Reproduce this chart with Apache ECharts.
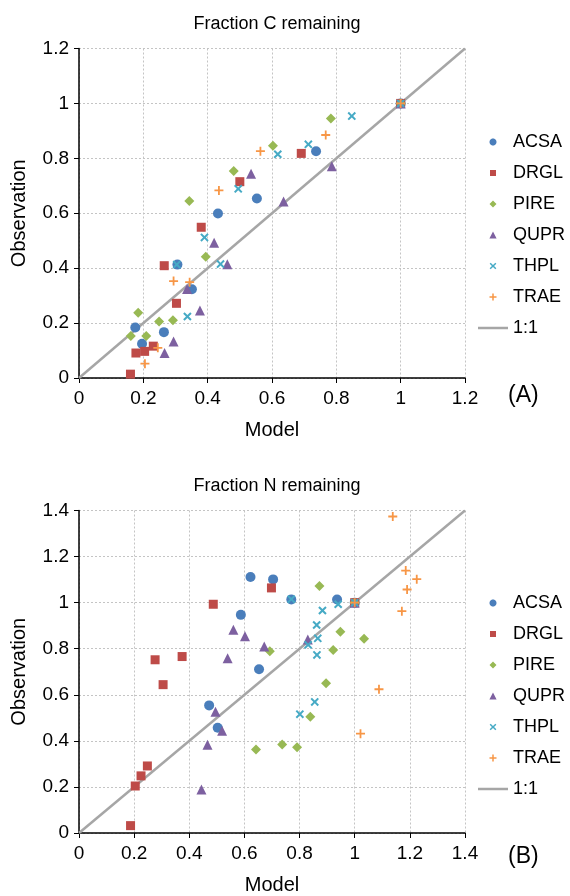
<!DOCTYPE html>
<html>
<head>
<meta charset="utf-8">
<script src="https://cdn.jsdelivr.net/npm/echarts@6/dist/echarts.min.js"></script>
<style>
html,body{margin:0;padding:0;background:#fff;}
#chart{width:570px;height:896px;}
</style>
</head>
<body>
<div id="chart"></div>
<script>
// ---- Data: [model, observation] pairs ----
var speciesNames = ['ACSA', 'DRGL', 'PIRE', 'QUPR', 'THPL', 'TRAE'];
var lineName = '1:1';
var xTicksC = [0, 0.2, 0.4, 0.6, 0.8, 1, 1.2];
var xTicksN = [0, 0.2, 0.4, 0.6, 0.8, 1, 1.2, 1.4];

// Fraction C remaining
var cACSA = [[0.175,0.184],[0.196,0.125],[0.264,0.167],[0.306,0.413],[0.351,0.323],[0.432,0.599],[0.553,0.654],[0.737,0.826],[1,1]];
var cDRGL = [[0.160,0.014],[0.177,0.091],[0.204,0.097],[0.231,0.116],[0.265,0.409],[0.303,0.272],[0.380,0.549],[0.500,0.715],[0.691,0.818],[1,1]];
var cPIRE = [[0.161,0.153],[0.184,0.238],[0.209,0.153],[0.249,0.206],[0.292,0.210],[0.343,0.645],[0.394,0.442],[0.481,0.754],[0.603,0.846],[0.783,0.945],[1,1]];
var cQUPR = [[0.266,0.091],[0.294,0.133],[0.336,0.324],[0.376,0.246],[0.420,0.493],[0.461,0.414],[0.535,0.744],[0.636,0.643],[0.786,0.771],[1,1]];
var cTHPL = [[0.304,0.413],[0.337,0.224],[0.390,0.512],[0.440,0.415],[0.495,0.689],[0.618,0.815],[0.713,0.851],[0.848,0.954],[1,1]];
var cTRAE = [[0.205,0.052],[0.245,0.110],[0.294,0.353],[0.344,0.349],[0.435,0.683],[0.564,0.826],[0.767,0.885],[1,1]];
var cLine = [[0,0],[1.2,1.2]];

// Fraction N remaining
var nACSA = [[0.472,0.554],[0.503,0.457],[0.587,0.947],[0.622,1.111],[0.653,0.711],[0.704,1.101],[0.770,1.014],[0.936,1.014],[1,1]];
var nDRGL = [[0.187,0.032],[0.204,0.204],[0.225,0.248],[0.248,0.291],[0.276,0.752],[0.305,0.644],[0.374,0.766],[0.487,0.993],[0.698,1.064],[1,1]];
var nPIRE = [[0.642,0.363],[0.692,0.789],[0.737,0.384],[0.791,0.372],[0.839,0.505],[0.872,1.072],[0.896,0.650],[0.922,0.794],[0.948,0.874],[1.034,0.843],[1,1]];
var nQUPR = [[0.444,0.189],[0.466,0.383],[0.495,0.526],[0.519,0.444],[0.539,0.759],[0.560,0.882],[0.602,0.854],[0.672,0.810],[0.830,0.840],[1,1]];
var nTHPL = [[0.770,1.015],[0.801,0.516],[0.831,0.817],[0.855,0.569],[0.862,0.903],[0.863,0.773],[0.866,0.845],[0.883,0.966],[0.940,0.993],[1,1]];
var nTRAE = [[1,1],[1.021,0.431],[1.088,0.624],[1.138,1.374],[1.171,0.963],[1.185,1.139],[1.190,1.057],[1.225,1.102]];
var nLine = [[0,0],[1.4,1.4]];

// ---- Styling ----
var FONT = '"Liberation Sans", Arial, sans-serif';
var colors = {ACSA:'#4a7ebb', DRGL:'#be4b48', PIRE:'#98b954', QUPR:'#7d60a0', THPL:'#46aac5', TRAE:'#f79646'};
var LINE_COLOR = '#a6a6a6';
var PLUS = 'path://M4,0H6V4H10V6H6V10H4V6H0V4H4Z';
var symbols = {
  ACSA:{s:'circle', size:10, rot:0},
  DRGL:{s:'rect', size:9, rot:0},
  PIRE:{s:'diamond', size:10, rot:0},
  QUPR:{s:'triangle', size:10, rot:0},
  THPL:{s:PLUS, size:10, rot:45},
  TRAE:{s:PLUS, size:9, rot:0}
};

// ---- Legend icon paths in a 30x7 box (keeps shapes unstretched) ----
var LW = 30, LH = 7, CX = 15, CY = 3.5;
function poly(pts) {
  return 'M' + pts.map(function (p) { return (CX + p[0]).toFixed(3) + ',' + (CY + p[1]).toFixed(3); }).join('L') + 'Z';
}
function anchors() {
  return 'M0,0h0.01v0.01h-0.01Z M' + (LW - 0.01) + ',' + (LH - 0.01) + 'h0.01v0.01h-0.01Z ';
}
function rot(pts, deg) {
  var a = deg * Math.PI / 180, c = Math.cos(a), s = Math.sin(a);
  return pts.map(function (p) { return [p[0] * c - p[1] * s, p[0] * s + p[1] * c]; });
}
function plusPts(L, w) {
  return [[w,-L],[w,-w],[L,-w],[L,w],[w,w],[w,L],[-w,L],[-w,w],[-L,w],[-L,-w],[-w,-w],[-w,-L]];
}
function circlePts(r) {
  var out = [];
  for (var i = 0; i < 24; i++) { var a = i / 24 * 2 * Math.PI; out.push([r * Math.cos(a), r * Math.sin(a)]); }
  return out;
}
var legendIcons = {
  ACSA: 'path://' + anchors() + poly(circlePts(3.5)),
  DRGL: 'path://' + anchors() + poly([[-3,-3],[3,-3],[3,3],[-3,3]]),
  PIRE: 'path://' + anchors() + poly([[0,-3.5],[3.5,0],[0,3.5],[-3.5,0]]),
  QUPR: 'path://' + anchors() + poly([[0,-3.5],[3.6,3.5],[-3.6,3.5]]),
  THPL: 'path://' + anchors() + poly(rot(plusPts(4, 0.75), 45)),
  TRAE: 'path://' + anchors() + poly(plusPts(3.5, 0.75))
};
legendIcons[lineName] = 'path://' + anchors() + 'M0,2.25H30V4.75H0Z';

function scatter(name, data, idx) {
  var sy = symbols[name];
  return {
    name: name, type: 'scatter', xAxisIndex: idx, yAxisIndex: idx,
    data: data, symbol: sy.s, symbolSize: sy.size, symbolRotate: sy.rot,
    itemStyle: {color: colors[name], opacity: 1}, z: 3
  };
}
function oneToOne(data, idx) {
  return {
    name: lineName, type: 'line', xAxisIndex: idx, yAxisIndex: idx,
    data: data, symbol: 'none', showSymbol: false, z: 2,
    lineStyle: {color: LINE_COLOR, width: 2.5}, itemStyle: {color: LINE_COLOR}
  };
}

var gridLine = {show: true, lineStyle: {color: '#c4c4c4', type: [2, 2], width: 1}};
function fmt(v) { return String(+v.toFixed(1)); }

function xAxis(idx, max) {
  return {
    type: 'value', gridIndex: idx, min: 0, max: max, interval: 0.2,
    name: 'Model', nameLocation: 'middle', nameGap: 42,
    nameTextStyle: {fontFamily: FONT, fontSize: 20, color: '#000'},
    axisLine: {onZero: false, lineStyle: {color: '#000', width: 1.5}},
    axisTick: {show: true, inside: false, length: 5, lineStyle: {color: '#000'}},
    axisLabel: {fontFamily: FONT, fontSize: 19, color: '#000', margin: 11, formatter: fmt},
    splitLine: gridLine
  };
}
function yAxis(idx, max) {
  return {
    type: 'value', gridIndex: idx, min: 0, max: max, interval: 0.2,
    name: 'Observation', nameLocation: 'middle', nameGap: 50, nameRotate: 90,
    nameTextStyle: {fontFamily: FONT, fontSize: 20, color: '#000'},
    axisLine: {show: true, onZero: false, lineStyle: {color: '#000', width: 1.5}},
    axisTick: {show: true, inside: false, length: 5, lineStyle: {color: '#000'}},
    axisLabel: {fontFamily: FONT, fontSize: 19, color: '#000', margin: 10, formatter: fmt},
    splitLine: gridLine
  };
}

function legendData() {
  var d = speciesNames.map(function (n) {
    return {name: n, icon: legendIcons[n], itemStyle: {color: colors[n]}};
  });
  d.push({name: lineName, icon: legendIcons[lineName], itemStyle: {color: LINE_COLOR}});
  return d;
}
function legend(top) {
  return {
    orient: 'vertical', left: 478, top: top, padding: 0, itemWidth: LW, itemHeight: LH,
    itemGap: 13, selectedMode: false,
    textStyle: {fontFamily: FONT, fontSize: 18, color: '#000'},
    data: legendData()
  };
}

var series = [];
[cACSA, cDRGL, cPIRE, cQUPR, cTHPL, cTRAE].forEach(function (d, i) { series.push(scatter(speciesNames[i], d, 0)); });
series.push(oneToOne(cLine, 0));
[nACSA, nDRGL, nPIRE, nQUPR, nTHPL, nTRAE].forEach(function (d, i) { series.push(scatter(speciesNames[i], d, 1)); });
series.push(oneToOne(nLine, 1));

var titleStyle = {fontFamily: FONT, fontSize: 18, fontWeight: 'normal', color: '#000'};
var option = {
  animation: false,
  backgroundColor: '#fff',
  textStyle: {fontFamily: FONT},
  title: [
    {text: 'Fraction C remaining', left: 272, top: 10, textAlign: 'center', textStyle: titleStyle},
    {text: 'Fraction N remaining', left: 272, top: 472, textAlign: 'center', textStyle: titleStyle}
  ],
  grid: [
    {left: 79, top: 48.5, width: 386, height: 329.5},
    {left: 79, top: 510.5, width: 386, height: 329}
  ],
  xAxis: [xAxis(0, xTicksC[xTicksC.length - 1]), xAxis(1, xTicksN[xTicksN.length - 1])],
  yAxis: [yAxis(0, 1.2), yAxis(1, 1.4)],
  legend: [legend(133), legend(594)],
  graphic: [
    {type: 'text', left: 508, top: 384, style: {text: '(A)', fontFamily: FONT, fontSize: 23, fill: '#000'}},
    {type: 'text', left: 508, top: 845, style: {text: '(B)', fontFamily: FONT, fontSize: 23, fill: '#000'}}
  ],
  series: series
};

var chart = echarts.init(document.getElementById('chart'), null, {renderer: 'canvas'});
chart.setOption(option);
</script>
</body>
</html>
